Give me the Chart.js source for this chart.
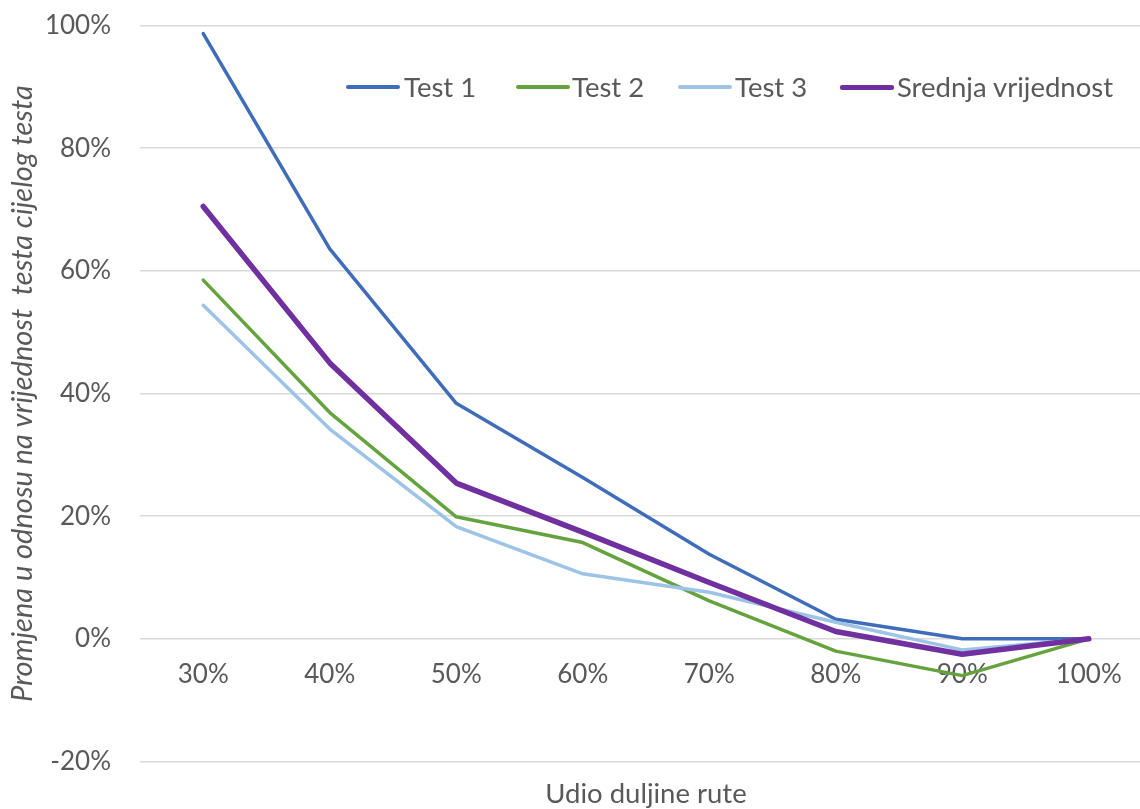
<!DOCTYPE html>
<html>
<head>
<meta charset="utf-8">
<script src="https://cdn.jsdelivr.net/npm/chart.js@4.4.1/dist/chart.umd.min.js"></script>
<style>
  html, body { margin: 0; padding: 0; background: #fff; width: 1140px; height: 809px; overflow: hidden; }
  #wrap { position: relative; width: 1152px; height: 809px; overflow: hidden; }
  canvas { display: block; position: absolute; left: 0; top: -19px; }
  .lg-line { position: absolute; height: 4px; border-radius: 2px; }
  .lg-text { position: absolute; font-family: Lato, "Open Sans", sans-serif; font-size: 27.5px; color: #595959; line-height: 30px; white-space: nowrap; }
</style>
</head>
<body>
<div id="wrap">
  <canvas id="c" width="1152" height="828"></canvas>
</div>
<script>
const categories = ['30%', '40%', '50%', '60%', '70%', '80%', '90%', '100%'];
const test1 = [98.7, 63.6, 38.4, 26.3, 13.8, 3.2, 0.0, 0.0];
const test2 = [58.5, 36.9, 19.9, 15.7, 6.2, -2.0, -6.0, 0.0];
const test3 = [54.4, 34.2, 18.3, 10.6, 7.6, 2.7, -1.8, 0.0];
const mean  = [70.5, 45.0, 25.4, 17.4, 9.2, 1.2, -2.5, 0.0];
const seriesNames = ['Test 1', 'Test 2', 'Test 3', 'Srednja vrijednost'];
const yTitle = 'Promjena u odnosu na vrijednost  testa cijelog testa';
const xTitle = 'Udio duljine rute';

const colors = ['#3F6DB9', '#65A33F', '#9DC3E6', '#7030A0'];
const widths = [3.5, 3.5, 3.5, 5.5];
const values = [test1, test2, test3, mean];

const FONT = 'Lato, "Open Sans", sans-serif';
const TXT = '#595959';

// HTML legend
const legendPos = [
  { line: 346, text: 404 },
  { line: 516, text: 572 },
  { line: 678, text: 735 },
  { line: 840, text: 897 }
];
const wrap = document.getElementById('wrap');
seriesNames.forEach((n, i) => {
  const l = document.createElement('div');
  l.className = 'lg-line';
  l.style.left = legendPos[i].line + 'px';
  l.style.width = '54px';
  l.style.top = (87 - (i === 3 ? 2.5 : 2)) + 'px';
  l.style.height = (i === 3 ? 5 : 4) + 'px';
  l.style.background = colors[i];
  wrap.appendChild(l);
  const t = document.createElement('div');
  t.className = 'lg-text';
  t.style.left = legendPos[i].text + 'px';
  t.style.top = (87 - 15) + 'px';
  t.textContent = n;
  wrap.appendChild(t);
});

new Chart(document.getElementById('c'), {
  type: 'line',
  data: {
    labels: categories,
    datasets: values.map((v, i) => ({
      label: seriesNames[i],
      data: v,
      borderColor: colors[i],
      backgroundColor: colors[i],
      borderWidth: widths[i],
      pointRadius: 0,
      tension: 0,
      borderCapStyle: 'round',
      borderJoinStyle: 'round',
      order: 3 - i
    }))
  },
  options: {
    responsive: false,
    animation: false,
    layout: { padding: { top: 7, right: 0, bottom: 0, left: 0 } },
    plugins: {
      legend: { display: false },
      tooltip: { enabled: false },
      title: {
        display: true,
        position: 'bottom',
        fullSize: false,
        text: xTitle,
        color: TXT,
        font: { family: FONT, size: 27.5, weight: 'normal', lineHeight: 1.0 },
        padding: { top: 19, bottom: 1 }
      }
    },
    scales: {
      x: {
        type: 'category',
        position: { y: 0 },
        offset: true,
        grid: { display: false },
        border: { display: false },
        ticks: {
          color: TXT,
          font: { family: FONT, size: 26 },
          padding: 12,
          maxRotation: 0,
          autoSkip: false
        }
      },
      y: {
        min: -20,
        max: 100,
        afterFit: (s) => { s.width = 140; },
        grid: { color: '#d9d9d9', lineWidth: 1.5, drawTicks: false },
        border: { display: false },
        ticks: {
          stepSize: 20,
          color: TXT,
          font: { family: FONT, size: 26 },
          padding: 29,
          callback: (v) => v + '%'
        },
        title: {
          display: true,
          text: yTitle,
          color: TXT,
          font: { family: FONT, size: 29, style: 'italic' },
          padding: { top: 5, bottom: 0 }
        }
      }
    }
  }
});
</script>
</body>
</html>
